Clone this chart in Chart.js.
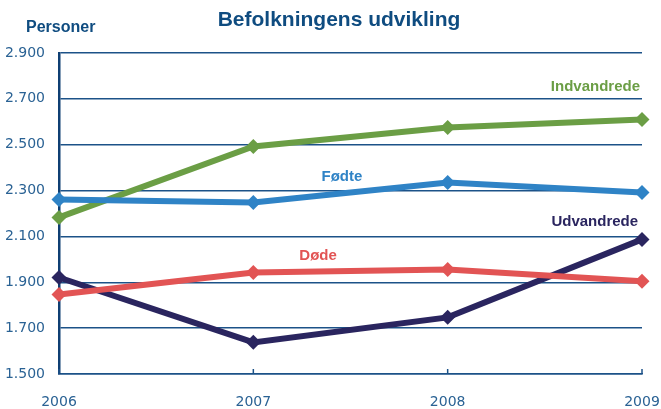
<!DOCTYPE html>
<html>
<head>
<meta charset="utf-8">
<script src="https://cdn.jsdelivr.net/npm/chart.js@4.4.0/dist/chart.umd.min.js"></script>
<style>
  html, body { margin: 0; padding: 0; background: #fff; }
  #wrap { width: 661px; height: 409px; position: relative; }
</style>
</head>
<body>
<div id="wrap"><canvas id="chart"></canvas></div>
<script>
// Befolkningens udvikling - data
const years = ['2006', '2007', '2008', '2009'];
const indvandrede = [2183, 2492, 2575, 2610];
const fodte = [2261, 2248, 2335, 2292];
const dode = [1847, 1943, 1956, 1904];
const udvandrede = [1921, 1638, 1747, 2087];
const yTicks = [1500, 1700, 1900, 2100, 2300, 2500, 2700, 2900];

const AXIS_BLUE = '#1c5288';
const TEXT_BLUE = '#2a6294';
const FONT = "'DejaVu Sans', sans-serif";
const BOLD = "'Liberation Sans', Arial, sans-serif";

// series name labels, placed relative to the data scales
const seriesLabels = [
  { text: 'Indvandrede', color: '#6b9e45', x: 2.99, y: 2754, align: 'right' },
  { text: 'Fødte', color: '#2f83c6', x: 1.456, y: 2361, align: 'center' },
  { text: 'Udvandrede', color: '#2a255f', x: 2.98, y: 2165, align: 'right' },
  { text: 'Døde', color: '#e25454', x: 1.333, y: 2017, align: 'center' }
];

const decorPlugin = {
  id: 'decor',
  afterDraw(chart) {
    const ctx = chart.ctx;
    const xs = chart.scales.x, ys = chart.scales.y;
    ctx.save();
    // title + unit label
    ctx.fillStyle = '#0f4c80';
    ctx.font = "bold 21px " + BOLD;
    ctx.textAlign = 'center';
    ctx.textBaseline = 'middle';
    ctx.fillText('Befolkningens udvikling', 339, 20);
    ctx.font = "bold 16px " + BOLD;
    ctx.textAlign = 'left';
    ctx.fillText('Personer', 26, 28);

    // small upward ticks on the x axis
    ctx.strokeStyle = AXIS_BLUE;
    ctx.lineWidth = 1.5;
    years.forEach((y, i) => {
      const px = xs.getPixelForTick(i);
      ctx.beginPath();
      ctx.moveTo(px, ys.bottom);
      ctx.lineTo(px, ys.bottom - 5);
      ctx.stroke();
    });

    // series names
    ctx.font = "bold 15px " + BOLD;
    ctx.textBaseline = 'middle';
    seriesLabels.forEach(l => {
      const x0 = xs.getPixelForValue(0), x1 = xs.getPixelForValue(1);
      ctx.fillStyle = l.color;
      ctx.textAlign = l.align;
      ctx.fillText(l.text, x0 + (x1 - x0) * l.x, ys.getPixelForValue(l.y));
    });
    ctx.restore();
  }
};

function mkSet(label, data, color) {
  return {
    label, data,
    borderColor: color, backgroundColor: color,
    borderWidth: 6,
    pointStyle: 'rectRot', pointRadius: 7.5, pointHoverRadius: 7.5,
    pointBorderWidth: 0,
    tension: 0, clip: false
  };
}

new Chart(document.getElementById('chart'), {
  type: 'line',
  data: {
    labels: years,
    datasets: [
      mkSet('Døde', dode, '#e25454'),
      mkSet('Fødte', fodte, '#2f83c6'),
      mkSet('Indvandrede', indvandrede, '#6b9e45'),
      mkSet('Udvandrede', udvandrede, '#2a255f')
    ]
  },
  options: {
    responsive: true,
    maintainAspectRatio: false,
    animation: false,
    layout: { padding: { top: 53, right: 19, bottom: 0, left: 0 } },
    plugins: {
      legend: { display: false },
      tooltip: { enabled: false }
    },
    scales: {
      x: {
        offset: false,
        afterFit(scale) {
          scale.height = 35;
          scale.paddingLeft = 0;
          scale.paddingRight = 0;
        },
        grid: { display: false, drawTicks: false },
        border: { display: true, color: AXIS_BLUE, width: 1.5 },
        ticks: { color: TEXT_BLUE, font: { family: FONT, size: 14 }, padding: 20, maxRotation: 0 }
      },
      y: {
        min: 1500, max: 2900,
        afterFit(scale) { scale.width = 59; },
        afterBuildTicks(scale) { scale.ticks = yTicks.map(v => ({ value: v })); },
        grid: { color: AXIS_BLUE, lineWidth: 1.5, drawTicks: false },
        border: { display: true, color: '#0f3f73', width: 2.5 },
        ticks: {
          color: TEXT_BLUE, font: { family: FONT, size: 14 }, padding: 14,
          callback: v => v.toLocaleString('da-DK')
        }
      }
    }
  },
  plugins: [decorPlugin]
});
</script>
</body>
</html>
